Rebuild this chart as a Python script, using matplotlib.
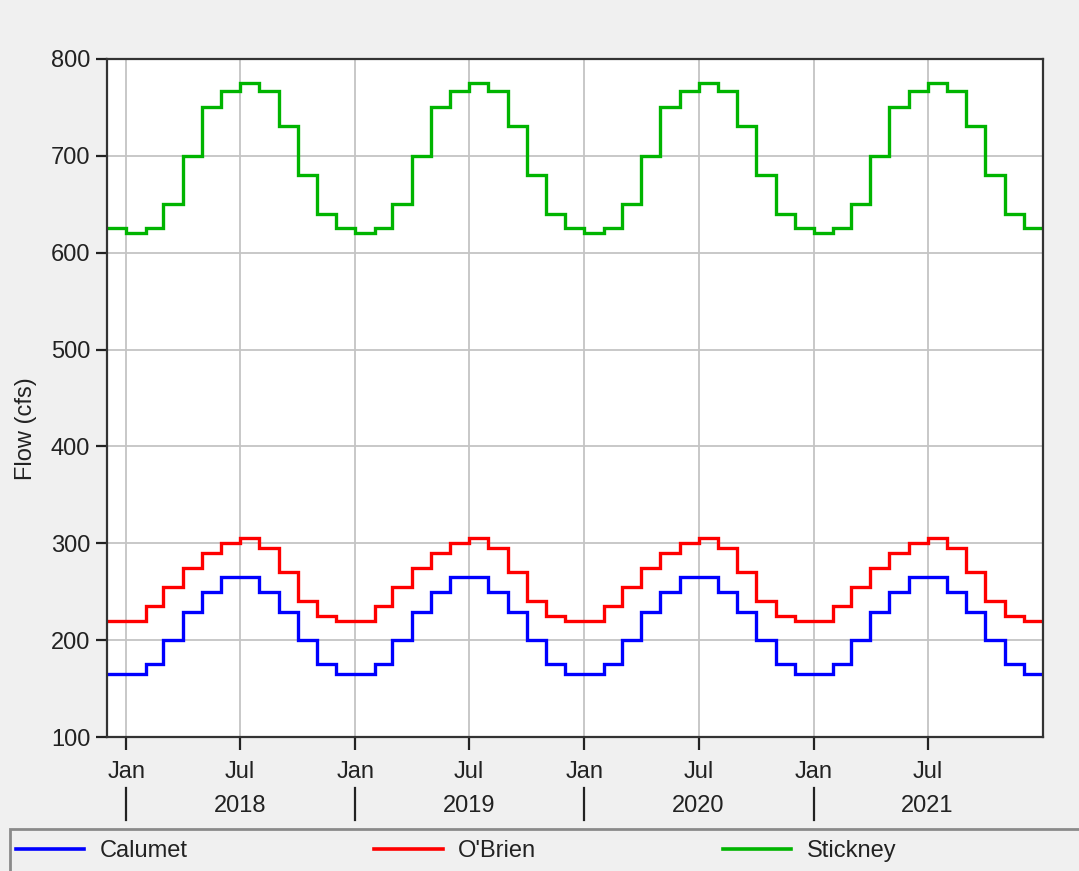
import matplotlib
matplotlib.use("Agg")
import matplotlib.pyplot as plt
import matplotlib.dates as mdates
from matplotlib.patches import Rectangle
from datetime import date

# monthly flows, Jan..Dec (same pattern every year)
calumet_month = [165, 175, 200, 229, 250, 265, 265, 250, 229, 200, 175, 165]
obrien_month = [220, 235, 255, 275, 290, 300, 305, 295, 270, 240, 225, 220]
stickney_month = [620, 625, 650, 700, 750, 767, 775, 767, 731, 680, 640, 625]

# series start with Dec 2017, then 2018-2021
calumet = [165] + calumet_month * 4
obrien = [220] + obrien_month * 4
stickney = [625] + stickney_month * 4

years = [2018, 2019, 2020, 2021]

# month edges: Dec 2017 .. Jan 2022
edges = [date(2017, 12, 1)] + [date(y, m, 1) for y in years for m in range(1, 13)] + [date(2022, 1, 1)]
edge_num = mdates.date2num(edges)

plt.rcParams['font.family'] = ['Liberation Sans', 'DejaVu Sans']
plt.rcParams['font.size'] = 17

bg = '#f0f0f0'
fig = plt.figure(figsize=(10.79, 8.71), dpi=100, facecolor=bg)
ax = fig.add_axes([107 / 1079, 1 - 737 / 871, (1043 - 107) / 1079, (737 - 59) / 871])
ax.set_facecolor('white')

series = [("Calumet", calumet, '#0000ff'),
          ("O'Brien", obrien, '#ff0000'),
          ("Stickney", stickney, '#00b400')]
handles = []
for name, vals, col in series:
    ax.stairs(vals, edge_num, color=col, linewidth=2.4, baseline=None, label=name)
    handles.append(plt.Line2D([], [], color=col, linewidth=2.6))

ax.set_xlim(edge_num[0], edge_num[-1])
ax.set_ylim(100, 800)
ax.set_yticks(range(100, 801, 100))
xt = [date(y, m, 1) for y in years for m in (1, 7)]
ax.set_xticks(mdates.date2num(xt))
ax.set_xticklabels([d.strftime('%b') for d in xt])
ax.grid(True, color='#c4c4c4', linewidth=1.3)
ax.set_axisbelow(True)
for s in ax.spines.values():
    s.set_color('#333333')
    s.set_linewidth(1.6)
ax.tick_params(axis='y', length=8, width=1.6, pad=4, colors='#222222')
ax.tick_params(axis='x', length=9, width=1.6, pad=8, colors='#222222')

ax.set_ylabel("Flow (cfs)", color='#222222')
ax.yaxis.set_label_coords(-(107 - 37) / 936, (737 - 429) / 678)

# year row under the month labels
tr = ax.get_xaxis_transform()
ah = 737 - 59
for y in years:
    x0 = mdates.date2num(date(y, 1, 1))
    ax.plot([x0, x0], [-(788 - 737) / ah, -(820 - 737) / ah], color='#222222',
            linewidth=1.6, transform=tr, clip_on=False)
    ax.text(mdates.date2num(date(y, 7, 1)), -(806 - 737) / ah, str(y),
            transform=tr, ha='center', va='center', color='#222222')

# legend panel
fig.patches.append(Rectangle((10 / 1079, -0.01), 1.0, (871 - 829) / 871 + 0.01,
                             transform=fig.transFigure, facecolor=bg,
                             edgecolor='#8a8a8a', linewidth=2))
fig.legend(handles, [s[0] for s in series], ncol=3, frameon=False,
           loc='center left', bbox_to_anchor=(16 / 1079, 1 - 851 / 871),
           borderpad=0, borderaxespad=0, handlelength=2.9, handletextpad=0.65,
           columnspacing=7.9, labelcolor='#222222')

fig.savefig("out.png", dpi=100, facecolor=bg)
